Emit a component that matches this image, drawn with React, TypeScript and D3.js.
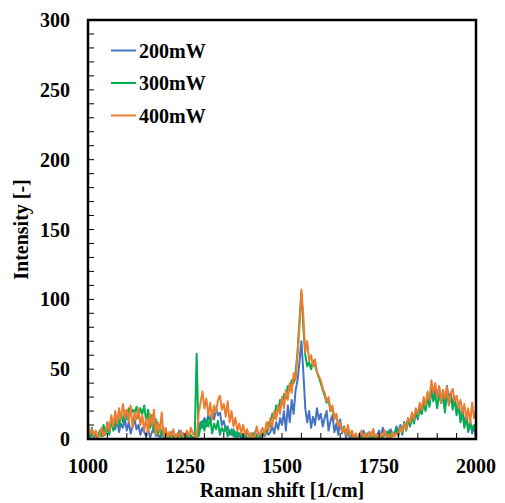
import React from "react";
import * as d3 from "d3";

const xStart = 1000;
const xStep = 5;

const series200 = [
  2, 0, 4, 1, 3, 0, 5, 2, 8, 3,
  12, 6, 15, 9, 7, 13, 5, 11, 8, 14,
  6, 12, 4, 9, 14, 7, 10, 3, 8, 5,
  2, 7, 1, 5, 9, 2, 4, 0, 6, 1,
  3, 0, 2, 5, 1, 3, 0, 6, 2, 4,
  1, 3, 0, 2, 1, 0, 2, 6, 12, 8,
  15, 9, 18, 11, 20, 14, 22, 17, 19, 10,
  13, 6, 9, 3, 7, 2, 5, 1, 4, 0,
  3, 1, 6, 2, 4, 0, 5, 2, 3, 1,
  4, 2, 6, 3, 5, 9, 4, 12, 7, 15,
  10, 20, 6, 24, 12, 28, 18, 35, 42, 55,
  70, 48, 22, 12, 20, 8, 16, 10, 22, 14,
  18, 9, 15, 20, 6, 13, 17, 5, 11, 3,
  14, 4, 9, 1, 6, 0, 3, 1, 2, 0,
  4, 1, 6, 2, 0, 5, 2, 7, 1, 3,
  6, 2, 8, 3, 5, 1, 7, 2, 4, 9,
  5, 10, 3, 12, 7, 15, 9, 18, 12, 20,
  14, 24, 18, 27, 21, 31, 25, 34, 28, 36,
  30, 37, 26, 35, 22, 38, 29, 33, 24, 30,
  19, 26, 14, 22, 10, 18, 6, 13, 4, 9,
  0,
];

const series300 = [
  5, 1, 8, 2, 3, 0, 6, 2, 10, 4,
  8, 3, 14, 6, 11, 16, 9, 18, 12, 20,
  14, 22, 17, 21, 19, 23, 15, 22, 18, 24,
  12, 21, 8, 17, 5, 14, 3, 10, 2, 6,
  1, 4, 0, 3, 1, 2, 0, 3, 1, 2,
  0, 2, 1, 3, 0, 1, 61, 2, 8, 13,
  6, 14, 9, 15, 4, 11, 7, 13, 3, 8,
  5, 9, 2, 6, 3, 7, 1, 5, 2, 4,
  1, 3, 0, 2, 1, 4, 0, 2, 1, 3,
  2, 6, 4, 12, 9, 18, 15, 24, 20, 28,
  25, 32, 29, 38, 35, 42, 40, 48, 62, 85,
  105, 80, 60, 52, 55, 50, 56, 53, 48, 44,
  40, 35, 31, 26, 28, 20, 22, 15, 17, 10,
  12, 6, 8, 3, 6, 2, 4, 1, 3, 0,
  2, 0, 3, 1, 4, 0, 2, 1, 3, 0,
  1, 3, 0, 5, 2, 6, 1, 4, 3, 7,
  2, 9, 4, 12, 6, 14, 9, 17, 11, 20,
  15, 22, 18, 26, 20, 30, 23, 36, 27, 32,
  22, 33, 26, 30, 19, 34, 25, 31, 21, 29,
  17, 25, 12, 20, 8, 16, 5, 12, 7, 10,
  4,
];

const series400 = [
  10, 4, 7, 2, 6, 1, 3, 8, 2, 5,
  12, 6, 17, 9, 20, 11, 22, 14, 25, 16,
  21, 12, 24, 8, 19, 14, 22, 10, 17, 6,
  15, 4, 18, 9, 21, 3, 12, 5, 19, 2,
  8, 1, 5, 2, 7, 0, 4, 2, 6, 1,
  3, 6, 2, 8, 4, 2, 1, 18, 26, 34,
  22, 29, 17, 26, 14, 24, 19, 28, 31, 21,
  25, 16, 27, 12, 20, 9, 15, 6, 11, 4,
  10, 3, 7, 1, 4, 0, 3, 9, 2, 5,
  8, 3, 12, 6, 15, 9, 20, 14, 24, 18,
  30, 22, 35, 28, 40, 33, 47, 42, 60, 80,
  107, 88, 62, 70, 56, 60, 52, 57, 48, 45,
  42, 36, 33, 27, 30, 20, 24, 14, 18, 9,
  12, 5, 8, 3, 10, 2, 6, 1, 4, 0,
  3, 6, 1, 4, 0, 5, 2, 7, 1, 3,
  0, 4, 2, 6, 1, 3, 0, 5, 2, 4,
  3, 8, 5, 11, 7, 15, 12, 19, 14, 22,
  18, 26, 21, 30, 24, 34, 28, 42, 33, 40,
  30, 38, 26, 35, 29, 37, 24, 33, 36, 27,
  31, 22, 28, 18, 25, 14, 22, 11, 26, 15,
  20,
];

const seriesNames = ["200mW", "300mW", "400mW"];
const seriesColors = ["#4472C4", "#00B050", "#ED7D31"];
const xTicks = [1000, 1250, 1500, 1750, 2000];
const yTicks = [0, 50, 100, 150, 200, 250, 300];

const W = 505;
const H = 503;
const left = 88;
const right = 476;
const top = 20;
const bottom = 439;
const font = "'Liberation Serif', 'Times New Roman', serif";

export default function App() {
  const x = d3.scaleLinear().domain([1000, 2000]).range([left, right]);
  const y = d3.scaleLinear().domain([0, 300]).range([bottom, top]);
  const line = d3
    .line<number>()
    .x((_, i) => x(xStart + i * xStep))
    .y((d) => y(d));
  const allSeries = [series200, series300, series400];
  const yMinor = d3.range(0, 301, 10);
  const xMinor = d3.range(1000, 2001, 50);

  return (
    <div style={{ position: "absolute", left: 0, top: 0 }}>
      <svg width={W} height={H} style={{ display: "block", background: "#fff" }}>
        <defs>
          <clipPath id="plot">
            <rect x={left} y={top - 2} width={right - left} height={bottom - top + 2} />
          </clipPath>
        </defs>
        <g clipPath="url(#plot)">
          {allSeries.map((s, k) => (
            <path
              key={k}
              d={line(s) || ""}
              fill="none"
              stroke={seriesColors[k]}
              strokeWidth={2}
              strokeLinejoin="round"
            />
          ))}
        </g>
        {yMinor.map((v) => (
          <line key={"yt" + v} x1={left} x2={left + 6} y1={y(v)} y2={y(v)} stroke="#000" strokeWidth={1} />
        ))}
        {xMinor.map((v) => (
          <line key={"xt" + v} x1={x(v)} x2={x(v)} y1={bottom} y2={bottom - 6} stroke="#000" strokeWidth={1} />
        ))}
        <rect x={left} y={top} width={right - left} height={bottom - top} fill="none" stroke="#000" strokeWidth={2.5} />
        {yTicks.map((v) => (
          <text
            key={"yl" + v}
            x={70}
            y={y(v)}
            dy="0.35em"
            textAnchor="end"
            fontFamily={font}
            fontWeight="bold"
            fontSize={20}
            fill="#000"
          >
            {v}
          </text>
        ))}
        {xTicks.map((v) => (
          <text
            key={"xl" + v}
            x={x(v)}
            y={473}
            textAnchor="middle"
            fontFamily={font}
            fontWeight="bold"
            fontSize={20}
            fill="#000"
          >
            {v}
          </text>
        ))}
        <text
          x={(left + right) / 2}
          y={497}
          textAnchor="middle"
          fontFamily={font}
          fontWeight="bold"
          fontSize={20}
          fill="#000"
        >
          Raman shift [1/cm]
        </text>
        <text
          transform={`translate(28, ${(top + bottom) / 2}) rotate(-90)`}
          textAnchor="middle"
          fontFamily={font}
          fontWeight="bold"
          fontSize={20}
          fill="#000"
        >
          Intensity [-]
        </text>
        {seriesNames.map((name, k) => (
          <g key={name} transform={`translate(0, ${50.5 + k * 32.5})`}>
            <line x1={111} x2={136} y1={0} y2={0} stroke={seriesColors[k]} strokeWidth={2} />
            <text x={139} y={0} dy="0.35em" fontFamily={font} fontWeight="bold" fontSize={20} fill="#000">
              {name}
            </text>
          </g>
        ))}
      </svg>
    </div>
  );
}
